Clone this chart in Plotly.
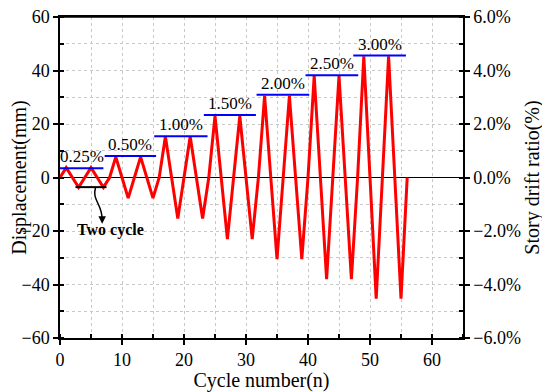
import plotly.graph_objects as go

# ---- data ----
cycle = list(range(0, 57))
displacement = [0, 3.7, 0, -3.7, 0, 3.7, 0, -3.7, 0,
                7.7, 0, -7.7, 0, 7.7, 0, -7.7, 0,
                15.3, 0, -15.3, 0, 15.3, 0, -15.3, 0,
                23.0, 0, -23.0, 0, 23.0, 0, -23.0, 0,
                30.5, 0, -30.5, 0, 30.5, 0, -30.5, 0,
                38.0, 0, -38.0, 0, 38.0, 0, -38.0, 0,
                45.3, 0, -45.3, 0, 45.3, 0, -45.3, 0]

drift_labels = ["0.25%", "0.50%", "1.00%", "1.50%", "2.00%", "2.50%", "3.00%"]
level_disp = [3.5, 8.0, 15.4, 23.4, 30.9, 38.2, 45.6]
level_start = [0, 7.2, 15.2, 23.2, 31.7, 39.6, 47.3]
level_end = [7.0, 15.5, 23.8, 31.6, 40.2, 48.1, 55.8]

FONT = "Liberation Serif"

fig = go.Figure()

fig.add_trace(go.Scatter(x=cycle, y=displacement, mode="lines",
                         line=dict(color="#FF0000", width=3),
                         showlegend=False, hoverinfo="skip"))

# blue level lines
bx, by = [], []
for s, e, d in zip(level_start, level_end, level_disp):
    bx += [s, e, None]
    by += [d, d, None]
fig.add_trace(go.Scatter(x=bx, y=by, mode="lines",
                         line=dict(color="#0000FF", width=2),
                         showlegend=False, hoverinfo="skip"))

# invisible trace for right axis
fig.add_trace(go.Scatter(x=[0], y=[0], yaxis="y2", mode="markers",
                         marker=dict(opacity=0), showlegend=False, hoverinfo="skip"))

for lab, s, e, d in zip(drift_labels, level_start, level_end, level_disp):
    fig.add_annotation(x=(s + e) / 2, y=d, text=lab, showarrow=False,
                       yanchor="bottom", yshift=0,
                       font=dict(family=FONT, size=17, color="black"))

# "Two cycle" bracket
fig.add_shape(type="line", x0=2.5, x1=7.5, y0=-3.6, y1=-3.6,
              line=dict(color="black", width=2))
fig.add_shape(type="path", path="M 5.72,-3.9 C 5.1,-8.5 6.9,-10 6.8,-16.0",
              line=dict(color="black", width=1.5))
fig.add_annotation(x=6.8, y=-17.3, ax=0, ay=-8, text="", showarrow=True,
                   arrowhead=2, arrowsize=1, arrowwidth=1.5, arrowcolor="black")
fig.add_annotation(x=8.1, y=-19.8, text="<b>Two cycle</b>", showarrow=False,
                   font=dict(family=FONT, size=16, color="black"))

# top frame line
fig.add_shape(type="line", xref="paper", yref="paper", x0=0, x1=1, y0=1, y1=1,
              line=dict(color="black", width=1.5))

fig.update_layout(
    width=542, height=384,
    margin=dict(l=52, r=87, t=9, b=54),
    paper_bgcolor="white", plot_bgcolor="white",
    font=dict(family=FONT, size=18, color="black"),
    xaxis=dict(range=[0, 65], dtick=10, tick0=0, automargin=False,
               showline=True, linecolor="black", linewidth=1.5, mirror=True,
               ticks="outside", ticklen=5, tickwidth=1.5, tickcolor="black",
               showgrid=True, gridcolor="#C8C8C8", griddash="dot", gridwidth=1,
               minor=dict(dtick=5, ticks="inside", ticklen=4, tickcolor="black",
                          showgrid=True, gridcolor="#C8C8C8", griddash="dot"),
               zeroline=False, ticklabeloverflow="allow",
               title=dict(text="Cycle number(n)", font=dict(size=20), standoff=2)),
    yaxis=dict(range=[-60, 60], dtick=20, tick0=0, automargin=False,
               showline=True, linecolor="black", linewidth=1.5, mirror=False,
               ticks="outside", ticklen=5, tickwidth=1.5, tickcolor="black",
               showgrid=True, gridcolor="#C8C8C8", griddash="dot", gridwidth=1,
               minor=dict(dtick=10, ticks="inside", ticklen=4, tickcolor="black",
                          showgrid=True, gridcolor="#C8C8C8", griddash="dot"),
               zeroline=True, zerolinecolor="black", zerolinewidth=1.2,
               ticklabeloverflow="allow",
               title=dict(text="Displacement(mm)", font=dict(size=20), standoff=2)),
    yaxis2=dict(range=[-6, 6], dtick=2, tick0=0, overlaying="y", side="right",
                automargin=False, ticklabeloverflow="allow",
                tickformat=".1f", ticksuffix="%",
                showline=True, linecolor="black", linewidth=1.5,
                ticks="outside", ticklen=5, tickwidth=1.5, tickcolor="black",
                minor=dict(dtick=1, ticks="inside", ticklen=4, tickcolor="black"),
                showgrid=False, zeroline=False,
                title=dict(text="Story drift ratio(%)", font=dict(size=20), standoff=2)),
)

fig.write_html("out.html")
